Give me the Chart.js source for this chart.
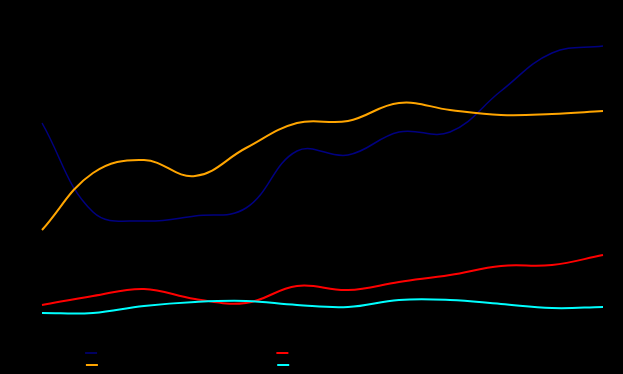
<!DOCTYPE html>
<html>
<head>
    <meta charset="utf-8">
    <title>Monthly series</title>
    <script src="https://cdn.jsdelivr.net/npm/chart.js"></script>
    <style>
        html, body { margin: 0; padding: 0; background: #000; }
        .chart-container { width: 623px; height: 374px; }
    </style>
</head>
<body>

<div class="chart-container">
    <canvas id="lineChart"></canvas>
</div>

<script>
    const months = ['Jan', 'Feb', 'Mar', 'Apr', 'May', 'Jun', 'Jul', 'Aug', 'Sep', 'Oct', 'Nov', 'Dec'];

    const navyValues = [197, 108, 99, 104, 112, 169, 165, 188, 188, 229, 267, 274];
    const orangeValues = [90, 147, 160, 144, 172, 197, 199, 217, 210, 205, 206, 209];
    const redValues = [15, 24, 31, 21, 17, 34, 30, 38, 45, 54, 55, 65];
    const cyanValues = [7, 7, 14, 18, 19, 15, 13, 20, 20, 16, 12, 13];

    const yTicks = [0, 50, 100, 150, 200, 250, 300];

    // legend is reversed so the first listed series is drawn underneath
    const series = [
        { label: 'Series D - cyan line, running total of monthly sums', data: cyanValues, color: '#00ffff', width: 2 },
        { label: 'Series B - orange line, monthly median', data: orangeValues, color: '#ffa500', width: 2 },
        { label: 'Series C - red line, running total for monthly values', data: redValues, color: '#ff0000', width: 2 },
        { label: 'Series A - navy line, total monthly units', data: navyValues, color: '#000080', width: 1.5 }
    ];

    const ctx = document.getElementById('lineChart');
    new Chart(ctx, {
        type: 'line',
        data: {
            labels: months,
            datasets: series.map((s) => ({
                label: s.label,
                data: s.data,
                borderColor: s.color,
                backgroundColor: s.color,
                borderWidth: s.width,
                pointRadius: 0,
                tension: 0.4,
                fill: false
            }))
        },
        options: {
            responsive: true,
            maintainAspectRatio: false,
            animation: false,
            layout: { padding: { top: 10, right: 20, left: 0, bottom: -6 } },
            font: { family: 'Liberation Sans' },
            plugins: {
                legend: {
                    position: 'bottom',
                    reverse: true,
                    labels: {
                        color: '#000',
                        font: { size: 10, family: 'Liberation Sans' },
                        padding: 2,
                        usePointStyle: true,
                        pointStyle: 'line',
                        pointStyleWidth: 12
                    }
                },
                tooltip: { enabled: false }
            },
            scales: {
                x: {
                    grid: { display: false },
                    border: { display: false },
                    ticks: { color: '#000', font: { size: 10 } },
                    afterFit(scale) { scale.height = 26; }
                },
                y: {
                    min: 0,
                    max: 310,
                    grid: { display: false },
                    border: { display: false },
                    afterBuildTicks(scale) { scale.ticks = yTicks.map((v) => ({ value: v })); },
                    ticks: { color: '#000', font: { size: 10 } },
                    afterFit(scale) { scale.width = 42; }
                }
            }
        }
    });
</script>

</body>
</html>
